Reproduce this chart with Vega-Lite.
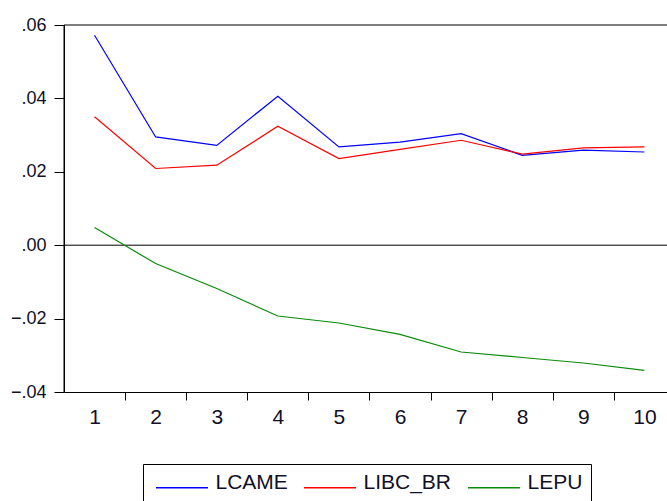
{
  "$schema": "https://vega.github.io/schema/vega-lite/v6.json",
  "width": 603,
  "height": 367,
  "autosize": "none",
  "padding": {"left": 64, "top": 25, "right": 0, "bottom": 109},
  "config": {
    "view": {"stroke": null},
    "font": "Liberation Sans",
    "axis": {"grid": false, "domain": true, "domainColor": "black", "tickColor": "black", "labelColor": "#101028", "title": null, "domainWidth": 1, "tickWidth": 1}
  },
  "datasets": {
    "series": [
      {"h": 1, "s": "LCAME", "v": 0.0572}, {"h": 2, "s": "LCAME", "v": 0.0295}, {"h": 3, "s": "LCAME", "v": 0.0272}, {"h": 4, "s": "LCAME", "v": 0.0406}, {"h": 5, "s": "LCAME", "v": 0.0268},
      {"h": 6, "s": "LCAME", "v": 0.0281}, {"h": 7, "s": "LCAME", "v": 0.0304}, {"h": 8, "s": "LCAME", "v": 0.0245}, {"h": 9, "s": "LCAME", "v": 0.0259}, {"h": 10, "s": "LCAME", "v": 0.0254},
      {"h": 1, "s": "LIBC_BR", "v": 0.0350}, {"h": 2, "s": "LIBC_BR", "v": 0.0209}, {"h": 3, "s": "LIBC_BR", "v": 0.0218}, {"h": 4, "s": "LIBC_BR", "v": 0.0324}, {"h": 5, "s": "LIBC_BR", "v": 0.0236},
      {"h": 6, "s": "LIBC_BR", "v": 0.0261}, {"h": 7, "s": "LIBC_BR", "v": 0.0286}, {"h": 8, "s": "LIBC_BR", "v": 0.0248}, {"h": 9, "s": "LIBC_BR", "v": 0.0265}, {"h": 10, "s": "LIBC_BR", "v": 0.0268},
      {"h": 1, "s": "LEPU", "v": 0.0048}, {"h": 2, "s": "LEPU", "v": -0.0050}, {"h": 3, "s": "LEPU", "v": -0.0118}, {"h": 4, "s": "LEPU", "v": -0.0193}, {"h": 5, "s": "LEPU", "v": -0.0212},
      {"h": 6, "s": "LEPU", "v": -0.0243}, {"h": 7, "s": "LEPU", "v": -0.0291}, {"h": 8, "s": "LEPU", "v": -0.0306}, {"h": 9, "s": "LEPU", "v": -0.0321}, {"h": 10, "s": "LEPU", "v": -0.0341}
    ],
    "refs": [{"ref": 0.06}, {"ref": 0}],
    "xrefs": [{"xr": 0.5}]
  },
  "layer": [
    {
      "data": {"name": "refs"},
      "mark": {"type": "rule", "color": "black", "strokeWidth": 1},
      "encoding": {
        "y": {
          "field": "ref", "type": "quantitative",
          "scale": {"domain": [-0.04, 0.06], "nice": false, "zero": false},
          "axis": {
            "values": [-0.04, -0.02, 0, 0.02, 0.04, 0.06],
            "labelExpr": "replace(format(datum.value, '.2f'), '0.', '.')",
            "labelFont": "Liberation Sans",
            "labelFontSize": 18,
            "tickSize": 10,
            "labelPadding": 8,
            "domain": true,
            "domainColor": "black",
            "domainWidth": 1,
            "labelFlush": false,
            "labelOverlap": false
          }
        }
      }
    },
    {
      "data": {"name": "xrefs"},
      "mark": {"type": "rule", "color": "black", "strokeWidth": 1},
      "encoding": {
        "x": {
          "field": "xr", "type": "quantitative",
          "scale": {"domain": [0.5, 10.37], "nice": false, "zero": false},
          "axis": {
            "values": [1, 1.5, 2, 2.5, 3, 3.5, 4, 4.5, 5, 5.5, 6, 6.5, 7, 7.5, 8, 8.5, 9, 9.5, 10],
            "labelExpr": "datum.value % 1 == 0 ? format(datum.value, 'd') : ''",
            "tickOpacity": {"condition": {"test": "datum.value % 1 == 0", "value": 0}, "value": 1},
            "tickSize": 8,
            "labelFont": "Liberation Sans",
            "labelFontSize": 21,
            "labelPadding": 6,
            "labelFlush": false,
            "labelOverlap": false
          }
        }
      }
    },
    {
      "data": {"name": "series"},
      "mark": {"type": "line", "strokeWidth": 1.2},
      "encoding": {
        "x": {
          "field": "h", "type": "quantitative",
          "scale": {"domain": [0.5, 10.37], "nice": false, "zero": false},
          "axis": {
            "values": [1, 1.5, 2, 2.5, 3, 3.5, 4, 4.5, 5, 5.5, 6, 6.5, 7, 7.5, 8, 8.5, 9, 9.5, 10],
            "labelExpr": "datum.value % 1 == 0 ? format(datum.value, 'd') : ''",
            "tickOpacity": {"condition": {"test": "datum.value % 1 == 0", "value": 0}, "value": 1},
            "tickSize": 8,
            "labelFont": "Liberation Sans",
            "labelFontSize": 21,
            "labelPadding": 6,
            "labelFlush": false,
            "labelOverlap": false
          }
        },
        "y": {
          "field": "v", "type": "quantitative",
          "scale": {"domain": [-0.04, 0.06], "nice": false, "zero": false},
          "axis": {
            "values": [-0.04, -0.02, 0, 0.02, 0.04, 0.06],
            "labelExpr": "replace(format(datum.value, '.2f'), '0.', '.')",
            "labelFont": "Liberation Sans",
            "labelFontSize": 18,
            "tickSize": 10,
            "labelPadding": 8,
            "domain": true,
            "domainColor": "black",
            "domainWidth": 1,
            "labelFlush": false,
            "labelOverlap": false
          }
        },
        "color": {
          "field": "s", "type": "nominal",
          "scale": {"domain": ["LCAME", "LIBC_BR", "LEPU"], "range": ["#0000ff", "#ff0000", "#0a8a0a"]},
          "legend": {
            "title": null,
            "orient": "none",
            "legendX": 79,
            "legendY": 439,
            "direction": "horizontal",
            "strokeColor": "black",
            "padding": 8,
            "symbolType": "M-1.1,1H9.3",
            "symbolSize": 100,
            "symbolStrokeWidth": 1.3,
            "labelFontSize": 21,
            "labelFont": "Liberation Sans",
            "labelColor": "#101028",
            "labelOffset": 43.5,
            "columnPadding": 11
          }
        }
      }
    }
  ]
}
